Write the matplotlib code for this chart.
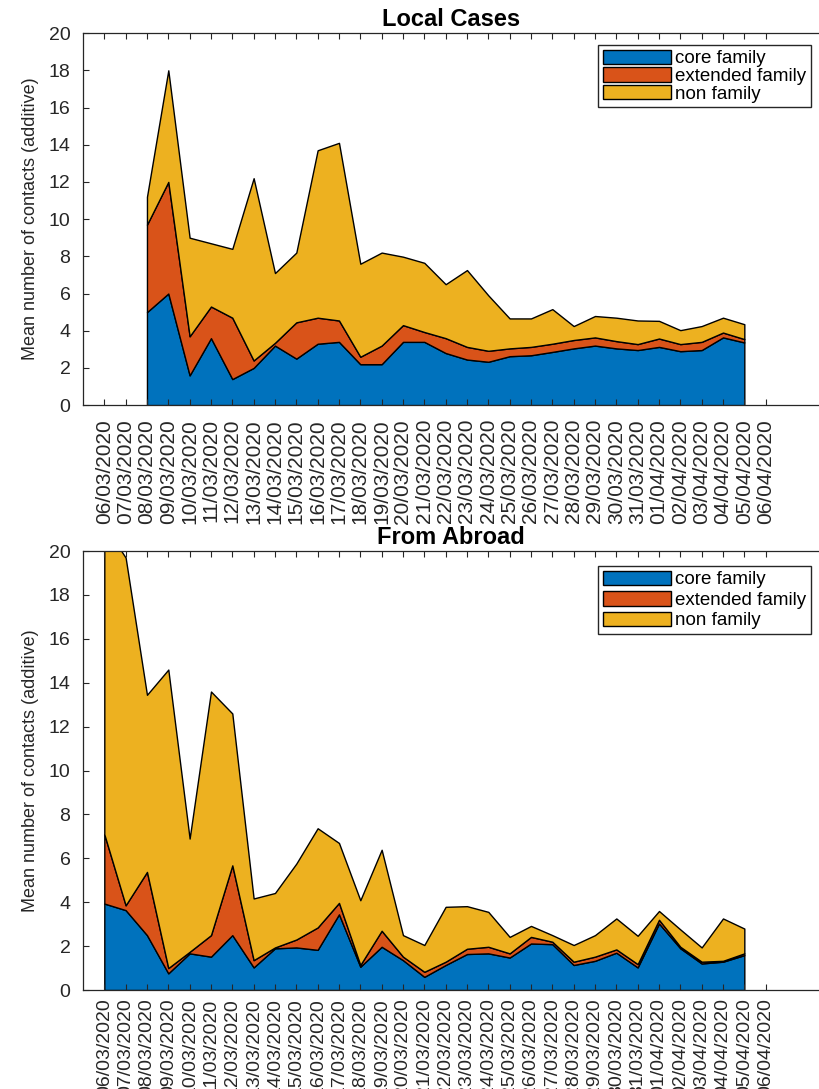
import numpy as np
import pandas as pd
import matplotlib
matplotlib.use('Agg')
import matplotlib.pyplot as plt

plt.rcParams['font.family'] = ['Liberation Sans', 'DejaVu Sans']

# day labels, 06/03/2020 .. 06/04/2020
dates = pd.date_range('2020-03-06', '2020-04-06').strftime('%d/%m/%Y').tolist()

# Local cases: reported from 08/03 (index 2) to 05/04 (index 30)
local_days = list(range(2, 31))
local_core = [5.0, 6.0, 1.6, 3.6, 1.4, 2.0, 3.2, 2.5, 3.3, 3.4, 2.2, 2.2, 3.4, 3.4, 2.8,
              2.45, 2.33, 2.63, 2.68, 2.86, 3.05, 3.2, 3.05, 2.96, 3.13, 2.9, 2.96, 3.64, 3.37]
local_ext = [4.7, 6.0, 2.1, 1.7, 3.3, 0.4, 0.15, 1.95, 1.4, 1.15, 0.4, 1.0, 0.9, 0.53, 0.8,
             0.68, 0.59, 0.42, 0.45, 0.44, 0.45, 0.44, 0.39, 0.32, 0.45, 0.38, 0.44, 0.26, 0.18]
local_non = [1.5, 6.0, 5.3, 3.4, 3.7, 9.8, 3.75, 3.75, 9.0, 9.55, 5.0, 5.0, 3.68, 3.72, 2.9,
             4.13, 2.98, 1.61, 1.53, 1.86, 0.75, 1.15, 1.26, 1.27, 0.95, 0.75, 0.85, 0.8, 0.8]

# Cases from abroad: 06/03 (index 0) to 05/04 (index 30)
abroad_days = list(range(0, 31))
abroad_core = [3.94, 3.64, 2.5, 0.76, 1.67, 1.52, 2.5, 1.03, 1.9, 1.94, 1.83, 3.45, 1.06, 1.97,
               1.36, 0.6, 1.14, 1.64, 1.67, 1.48, 2.12, 2.09, 1.14, 1.33, 1.7, 1.03, 3.03, 1.9,
               1.21, 1.29, 1.59]
abroad_ext = [3.16, 0.22, 2.88, 0.24, 0.07, 0.98, 3.18, 0.33, 0.04, 0.36, 1.02, 0.52, 0.08, 0.73,
              0.16, 0.23, 0.15, 0.24, 0.3, 0.19, 0.3, 0.11, 0.15, 0.19, 0.15, 0.15, 0.17, 0.07,
              0.08, 0.04, 0.08]
abroad_non = [14.1, 15.84, 8.07, 13.6, 5.16, 11.1, 6.92, 2.81, 2.48, 3.46, 4.52, 2.73, 2.95, 3.69,
              0.98, 1.22, 2.5, 1.94, 1.59, 0.75, 0.5, 0.3, 0.76, 0.98, 1.41, 1.29, 0.4, 0.79,
              0.65, 1.93, 1.13]

labels = ['core family', 'extended family', 'non family']
colors = ['#0072BD', '#D95319', '#EDB120']
axcol = '#262626'

fig = plt.figure(figsize=(8.19, 10.89), dpi=100)
ax1 = fig.add_axes([0.1013, 0.628, 0.8987, 0.3416])
ax2 = fig.add_axes([0.1013, 0.0909, 0.8987, 0.4031])


def draw(ax, days, core, ext, non, title, legend_top, spacing, tickpad, xsize):
    ax.stackplot(days, core, ext, non, colors=colors, labels=labels,
                 edgecolor='black', linewidth=1.0)
    ax.set_xlim(-1, 33.5)
    ax.set_ylim(0, 20)
    ax.set_yticks(np.arange(0, 21, 2))
    ax.set_xticks(range(len(dates)))
    ax.set_xticklabels(dates, rotation=90, fontsize=xsize, color=axcol)
    ax.tick_params(axis='y', labelsize=14, labelcolor=axcol, pad=9)
    ax.tick_params(axis='x', pad=tickpad)
    ax.tick_params(direction='in', length=4, width=0.8, color=axcol, top=True, right=False)
    ax.spines['right'].set_visible(False)
    for s in ['left', 'top', 'bottom']:
        ax.spines[s].set_color(axcol)
        ax.spines[s].set_linewidth(0.9)
    ax.set_ylabel('Mean number of contacts (additive)', fontsize=13, color=axcol, labelpad=7)
    ax.set_title(title, fontsize=17, fontweight='bold', pad=5)
    leg = ax.legend(loc='upper right', bbox_to_anchor=(811 / 819, legend_top),
                    bbox_transform=fig.transFigure, borderaxespad=0, fontsize=13.5,
                    handlelength=3.6, handleheight=0.8, handletextpad=0.25,
                    labelspacing=spacing, borderpad=0.25, fancybox=False, framealpha=1)
    leg.get_frame().set_edgecolor(axcol)
    leg.get_frame().set_linewidth(1.0)
    return leg


draw(ax1, local_days, local_core, local_ext, local_non, 'Local Cases',
     1 - 45 / 1089, 0.0, 10, 15)
draw(ax2, abroad_days, abroad_core, abroad_ext, abroad_non, 'From Abroad',
     1 - 566 / 1089, 0.15, 6, 14)

fig.savefig('out.png', dpi=100)
